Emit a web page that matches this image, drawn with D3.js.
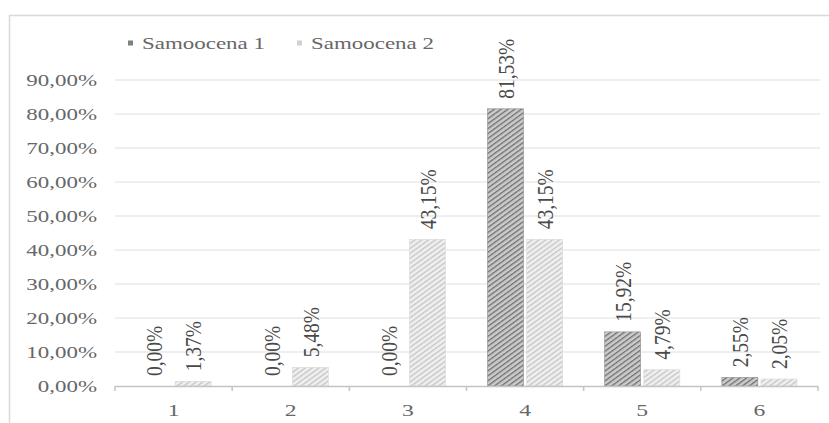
<!DOCTYPE html>
<html><head><meta charset="utf-8">
<script src="https://cdn.jsdelivr.net/npm/d3@7"></script>
<style>body{margin:0;background:#fff}svg{display:block}</style>
</head><body>
<svg id="c" width="829" height="423" font-family="'Liberation Serif', 'Times New Roman', serif"></svg>
<script>
const categories = ["1","2","3","4","5","6"];
const seriesNames = ["Samoocena 1","Samoocena 2"];
const samoocena1 = [0.00, 0.00, 0.00, 81.53, 15.92, 2.55];
const samoocena2 = [1.37, 5.48, 43.15, 43.15, 4.79, 2.05];
const yTicks = [0,10,20,30,40,50,60,70,80,90];

const fmt = v => v.toFixed(2).replace(".", ",") + "%";
const svg = d3.select("#c");
const SX = 1.35;

// chart border
svg.append("rect").attr("x",9.5).attr("y",15.5).attr("width",830).attr("height",420)
  .attr("fill","none").attr("stroke","#d9d9d9").attr("stroke-width",1.5);

// patterns
const defs = svg.append("defs");
function pat(id, bg, fg, w){
  const p = defs.append("pattern").attr("id",id).attr("patternUnits","userSpaceOnUse")
    .attr("width",4).attr("height",4).attr("patternTransform","rotate(54)");
  p.append("rect").attr("width",4).attr("height",4).attr("fill",bg);
  p.append("rect").attr("x",0).attr("width",w).attr("height",4).attr("fill",fg);
}
pat("p1","#cbcbcb","#6e6e6e",1.3);
pat("p2","#f0f0f0","#c4c4c4",1.3);
const fills = ["url(#p1)","url(#p2)"];
const strokes = ["#8f8f8f","#dadada"];

const y = d3.scaleLinear().domain([0,90]).range([386,80]);
const x0 = d3.scaleBand().domain(categories).range([115,818]).padding(0);
const x1 = d3.scaleBand().domain(seriesNames).range([21, x0.bandwidth()-21]).paddingInner(0.08);

// gridlines
svg.append("g").selectAll("line").data(yTicks.slice(1)).join("line")
  .attr("x1",115).attr("x2",820).attr("y1",d=>y(d)).attr("y2",d=>y(d))
  .attr("stroke","#dedede").attr("stroke-width",1);

function htext(g, x, yy, txt, anchor, size, color){
  return g.append("g").attr("transform",`translate(${x},${yy}) scale(${SX},1)`)
    .append("text").attr("text-anchor",anchor).attr("dy","0.35em")
    .attr("font-size",size).attr("fill",color).text(txt);
}
// y labels
const yl = svg.append("g");
yTicks.forEach(v => htext(yl, 97, y(v), fmt(v), "end", 17, "#676767"));

// bars
const data = categories.map((c,i)=>({c, vals:[samoocena1[i], samoocena2[i]]}));
const groups = svg.append("g").selectAll("g").data(data).join("g")
  .attr("transform",d=>`translate(${x0(d.c)},0)`);
groups.selectAll("rect").data(d=>d.vals.map((v,j)=>({v,j}))).join("rect")
  .attr("x",d=>x1(seriesNames[d.j])).attr("width",x1.bandwidth())
  .attr("y",d=>y(d.v)).attr("height",d=>y(0)-y(d.v))
  .attr("fill",d=>fills[d.j]).attr("stroke",d=>d.v>0?strokes[d.j]:"none").attr("stroke-width",0.6);

// data labels
groups.selectAll("g.lab").data(d=>d.vals.map((v,j)=>({v,j}))).join("g").attr("class","lab")
  .attr("transform",d=>`translate(${x1(seriesNames[d.j])+x1.bandwidth()/2},${y(d.v)-10}) rotate(-90) scale(1,1.22)`)
  .append("text").attr("text-anchor","start").attr("dy","0.35em")
  .attr("font-size",19.5).attr("fill","#4a4a4a").text(d=>fmt(d.v));

// x axis
const ax = svg.append("g");
ax.append("line").attr("x1",115).attr("x2",818).attr("y1",386.5).attr("y2",386.5)
  .attr("stroke","#c4c4c4").attr("stroke-width",1.5);
const bounds = categories.map(c=>x0(c)).concat([x0.range()[1]]);
ax.selectAll("line.t").data(bounds).join("line").attr("class","t")
  .attr("x1",d=>d).attr("x2",d=>d).attr("y1",386).attr("y2",391)
  .attr("stroke","#c4c4c4").attr("stroke-width",1.5);
categories.forEach(c => htext(ax, x0(c)+x0.bandwidth()/2, 410, c, "middle", 17.5, "#676767"));

// legend
const lg = svg.append("g");
const legColors = ["#808080","#d2d2d2"];
const legX = [128, 297];
seriesNames.forEach((s,i)=>{
  lg.append("rect").attr("x",legX[i]).attr("y",40.5).attr("width",5).attr("height",5).attr("fill",legColors[i]);
  htext(lg, legX[i]+14, 43, s, "start", 17, "#676767");
});
</script>
</body></html>
